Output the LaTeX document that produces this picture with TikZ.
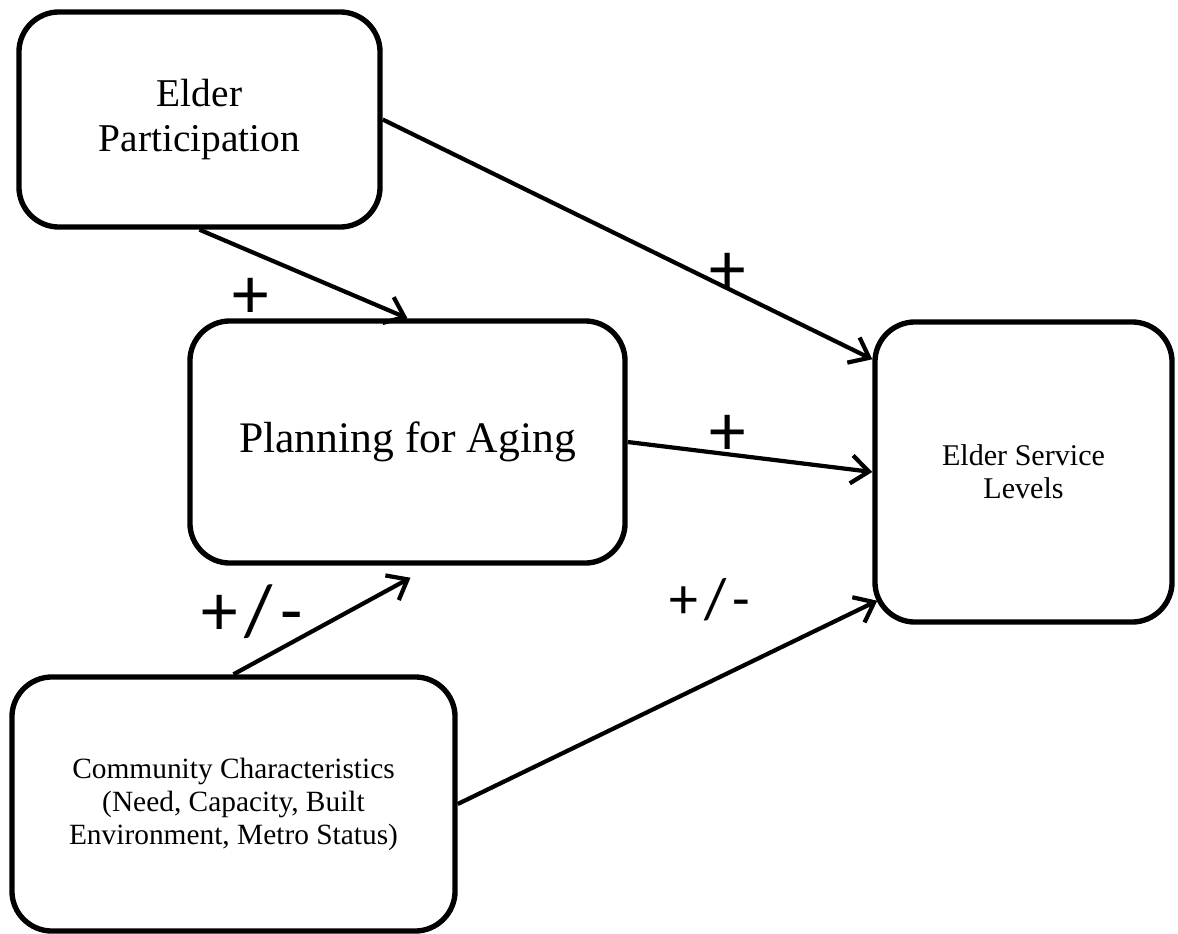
\documentclass[tikz,border=0pt]{standalone}
\usepackage{fontspec}
\setmainfont{Liberation Serif}
\newfontfamily\signfont{Carlito}
\usetikzlibrary{arrows.meta,calc}

\tikzset{
  box/.style={draw, line width=3.8pt, rounded corners=1cm, align=center, inner sep=0pt},
  link/.style={line width=3pt, -{Straight Barb[length=0.44cm,width=0.7cm]}},
  sign/.style={font=\signfont\fontsize{52}{52}\selectfont, inner sep=0pt},
}
\newcommand{\plusminus}{+\kern0.1em/\kern0.1em-}

\begin{document}
\begin{tikzpicture}[x=0.025cm, y=-0.025cm]
\useasboundingbox (0,0) rectangle (1178,934);

\node[box, minimum width=9.025cm, minimum height=5.375cm,
  font=\fontsize{28}{32}\selectfont] (elder) at (199.5,119.5) {Elder\\Participation};
\node[box, minimum width=10.875cm, minimum height=6.05cm,
  font=\fontsize{31}{35}\selectfont] (plan) at (407.5,442) {Planning for Aging};
\node[box, minimum width=7.425cm, minimum height=7.5cm,
  font=\fontsize{21.4}{23.5}\selectfont] (svc) at (1023.5,472) {Elder Service\\Levels};
\node[box, minimum width=11.075cm, minimum height=6.35cm,
  font=\fontsize{20.9}{23.5}\selectfont] (comm) at (233.5,804)
  {Community Characteristics\\(Need, Capacity, Built\\Environment, Metro Status)};

\draw[link] (elder.south) -- (plan.north);
\draw[link] (elder.east) -- ($(svc.north west)+(0,40)$);
\draw[link] (plan.east) -- (svc.west);
\draw[link] (comm.north) -- ($(plan.south)+(3,12)$);
\draw[link] (comm.east) -- ($(svc.south west)+(5,-24)$);

\node[sign] (s1) at (251,298) {+};
\node[sign] (s2) at (728,273) {+};
\node[sign] (s3) at (728,435) {+};
\node[sign] (s4) at (252,612) {\plusminus};
\node[sign, font=\signfont\fontsize{41}{41}\selectfont] (s5) at (710,600) {\plusminus};

\end{tikzpicture}
\end{document}
